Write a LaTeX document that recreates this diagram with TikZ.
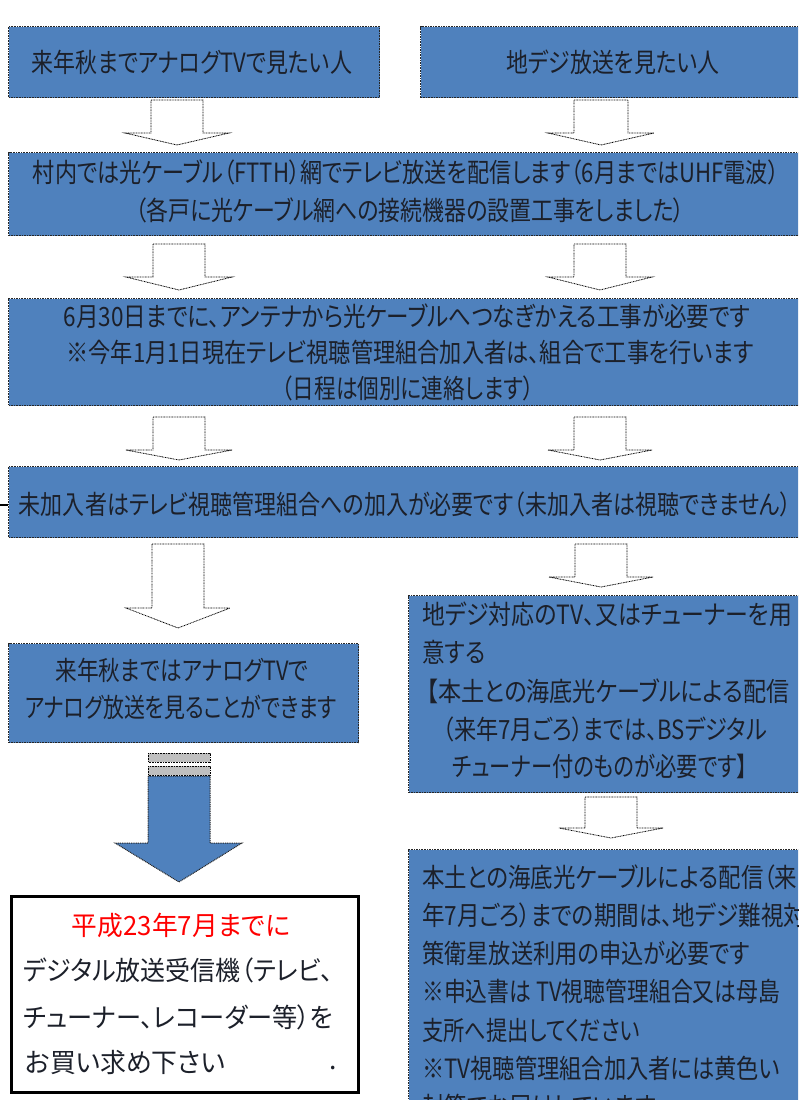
\documentclass[tikz,border=0pt]{standalone}
\usepackage{fontspec}
\setmainfont{Noto Sans CJK JP}[RawFeature={+palt}]
\usepackage{graphicx}
\definecolor{boxblue}{RGB}{79,129,189}
\definecolor{txtcol}{RGB}{28,32,42}
\newcommand{\fitw}[2]{\resizebox{#1pt}{\height}{#2}}
\newcommand{\sqz}[1]{\scalebox{0.85}[1]{#1}}
\newcommand{\harr}[6]{%
  \draw[hollowarrow] (#1-#5,#2) -- (#1+#5,#2) -- (#1+#5,#3) -- (#1+#6,#3) -- (#1,#4) -- (#1-#6,#3) -- (#1-#5,#3) -- cycle;}
\begin{document}
\begin{tikzpicture}[x=1pt,y=-1pt,
  bluebox/.style={draw=black!85, fill=boxblue, line width=1.3pt, dash pattern=on 1.6pt off 1pt, inner sep=0pt, anchor=north west},
  whitebox/.style={draw=black, fill=white, line width=2.6pt, inner sep=0pt, anchor=north west},
  hollowarrow/.style={draw=black, fill=white, line width=0.8pt, dash pattern=on 0.9pt off 0.7pt},
  stripe/.style={draw=black, fill=black!25, line width=0.8pt, dash pattern=on 0.9pt off 0.7pt},
  bigarrow/.style={draw=black!85, fill=boxblue, line width=1pt, dash pattern=on 1pt off 0.8pt},
  txt/.style={inner sep=0pt, text=txtcol, font=\fontsize{26.5}{30}\selectfont},
  ltxt/.style={txt, anchor=west},
  redtxt/.style={txt, text=red}]
\useasboundingbox (0,0) rectangle (798,1100);
\clip (0,0) rectangle (798,1100);

% boxes
\node[bluebox, minimum width=371pt, minimum height=71pt] (b1) at (8,26) {};
\node[bluebox, minimum width=390pt, minimum height=71pt] (b2) at (420,26) {};
\node[bluebox, minimum width=800pt, minimum height=83pt] (b3) at (8,152) {};
\node[bluebox, minimum width=800pt, minimum height=107pt] (b4) at (8,298) {};
\node[bluebox, minimum width=800pt, minimum height=71pt] (b5) at (8,466) {};
\node[bluebox, minimum width=350pt, minimum height=99pt] (b6) at (8,643) {};
\node[bluebox, minimum width=400pt, minimum height=197pt] (b7) at (408,595) {};
\node[bluebox, minimum width=400pt, minimum height=270pt] (b8) at (408,849) {};
\node[whitebox, minimum width=347pt, minimum height=196pt] (b9) at (10,895) {};

% left stub line
\coordinate (l0) at (0,505);
\draw[line width=1.5pt, black] (l0) -- (l0 -| b5.west);

% hollow arrows
\harr{177}{100}{133}{145}{26}{52}
\harr{601}{100}{133}{145}{27}{53}
\harr{179}{244}{277}{290}{26}{53}
\harr{600}{244}{277}{290}{26}{52}
\harr{179}{417}{450}{460}{26}{53}
\harr{600}{417}{450}{460}{26}{52}
\harr{178}{544}{608}{628}{26}{52}
\harr{601}{544}{577}{587}{26}{52}
\harr{611}{797}{828}{838}{26}{52}

% big blue arrow
\draw[stripe] (148,753) rectangle (210,762);
\draw[stripe] (148,766) rectangle (210,775);
\draw[bigarrow] (148,776) -- (210,776) -- (210,843) -- (242,843) -- (179,882) -- (115,843) -- (148,843) -- cycle;

% texts
\node[txt] (t1) at (192,62) {\fitw{320}{来年秋までアナログTVで見たい人}};
\node[txt] (t2) at (613,62) {\fitw{213}{地デジ放送を見たい人}};
\node[txt] (t3a) at (406,172) {\fitw{746}{村内では光ケーブル（FTTH）網でテレビ放送を配信します（6月まではUHF電波）}};
\node[txt] (t3b) at (410,210) {\fitw{549}{（各戸に光ケーブル網への接続機器の設置工事をしました）}};
\node[txt] (t4a) at (407,316) {\fitw{687}{6月30日までに、アンテナから光ケーブルへつなぎかえる工事が必要です}};
\node[txt] (t4b) at (410,352) {\fitw{687}{※今年1月1日現在テレビ視聴管理組合加入者は、組合で工事を行います}};
\node[txt] (t4c) at (408,388) {\fitw{252}{（日程は個別に連絡します）}};
\node[txt] (t5) at (405,504) {\fitw{772}{未加入者はテレビ視聴管理組合への加入が必要です（未加入者は視聴できません）}};
\node[txt] (t6a) at (182,670) {\fitw{253}{来年秋まではアナログTVで}};
\node[txt] (t6b) at (181,707) {\fitw{312}{アナログ放送を見ることができます}};
\node[ltxt] (t7a) at (422,614) {\fitw{370}{地デジ対応のTV、又はチューナーを用}};
\node[ltxt] (t7b) at (422,652) {\sqz{意する}};
\node[txt] (t7c) at (608,691) {\fitw{363}{【本土との海底光ケーブルによる配信}};
\node[txt] (t7d) at (605,729) {\fitw{324}{（来年7月ごろ）までは、BSデジタル}};
\node[txt] (t7e) at (600,766) {\fitw{295}{チューナー付のものが必要です】}};
\node[ltxt] (t8a) at (422,877) {\fitw{375}{本土との海底光ケーブルによる配信（来}};
\node[ltxt] (t8b) at (422,915) {\sqz{年7月ごろ）までの期間は、地デジ難視対}};
\node[ltxt] (t8c) at (422,953) {\fitw{328}{策衛星放送利用の申込が必要です}};
\node[ltxt] (t8d) at (422,991) {\fitw{358}{※申込書は TV視聴管理組合又は母島}};
\node[ltxt] (t8e) at (422,1030) {\fitw{218}{支所へ提出してください}};
\node[ltxt] (t8f) at (422,1068) {\fitw{358}{※TV視聴管理組合加入者には黄色い}};
\node[ltxt] (t8g) at (422,1106) {\sqz{封筒でお届けしています}};
\node[redtxt] (t9a) at (181,925) {\fitw{218}{平成23年7月までに}};
\node[ltxt] (t9b) at (23,970) {\fitw{310}{デジタル放送受信機（テレビ、}};
\node[ltxt] (t9c) at (23,1017) {\fitw{310}{チューナー、レコーダー等）を}};
\node[ltxt] (t9d) at (25,1062) {\fitw{200}{お買い求め下さい}};
\node[txt] (t9e) at (333,1068) {.};
\end{tikzpicture}
\end{document}
